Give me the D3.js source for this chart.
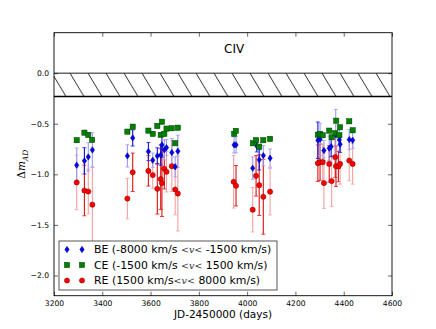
<!DOCTYPE html>
<html><head><meta charset="utf-8">
<script src="https://cdn.jsdelivr.net/npm/d3@7"></script>
<style>body{margin:0;background:#fff}</style>
</head><body><svg id="c" width="436" height="329"></svg>
<script>
// ---- data ----
const xTicks = [3200, 3400, 3600, 3800, 4000, 4200, 4400, 4600];
const yTicks = [0.0, -0.5, -1.0, -1.5, -2.0];
const bandTop = 0.0, bandBottom = -0.23;

const beDays = [3294,3326,3342,3359, 3504,3526, 3591,3609,3628,3642,3647,3657,3666,3688,3702,3713, 3946,3954, 4023,4040,4050,4067,4095, 4293,4302,4318,4340,4348,4367,4382,4385,4423,4437];
const beVals = [-0.91,-0.867,-0.828,-0.759, -0.818,-0.64, -0.775,-0.86,-0.818,-0.81,-0.71,-0.758,-0.736,-0.785,-0.926,-0.772, -0.709,-0.709, -0.939,-0.719,-0.857,-0.815,-0.84, -0.663,-0.655,-0.765,-0.742,-0.726,-0.608,-0.66,-0.703,-0.657,-0.663];
const beErr  = [0.17,0.13,0.14,0.17, 0.11,0.08, 0.09,0.07,0.08,0.1,0.12,0.1,0.08,0.14,0.1,0.16, 0.08,0.08, 0.11,0.06,0.1,0.1,0.09, 0.18,0.16,0.1,0.12,0.1,0.25,0.1,0.08,0.1,0.08];
const beDark = [0,1,0,0, 0,1, 1,0,1,1,1,0,0,0,0,0, 0,0, 0,1,1,0,0, 1,0,0,0,1,0,0,1,0,0];

const ceDays = [3294,3326,3342,3358, 3504,3526, 3591,3609,3628,3642,3647,3657,3666,3688,3702,3713, 3946,3953, 4024,4037,4050,4067,4095, 4293,4302,4313,4340,4350,4365,4369,4382,4385,4423,4437];
const ceVals = [-0.663,-0.588,-0.61,-0.66, -0.578,-0.529, -0.568,-0.60,-0.522,-0.61,-0.48,-0.60,-0.548,-0.545,-0.693,-0.539, -0.60,-0.571, -0.693,-0.663,-0.726,-0.663,-0.65, -0.608,-0.60,-0.614,-0.568,-0.634,-0.594,-0.47,-0.614,-0.535,-0.476,-0.565];
const ceErr  = ceVals.map(() => 0.02);

const reDays = [3294,3326,3342,3359, 3504,3526, 3591,3609,3628,3642,3647,3657,3666,3688,3702,3713, 3944,3954, 4023,4037,4050,4067,4095, 4293,4302,4313,4318,4340,4350,4365,4368,4378,4385,4423,4437];
const reVals = [-1.08,-1.16,-1.17,-1.30, -1.24,-0.98, -0.966,-1.008,-1.143,-1.047,-1.087,-0.945,-0.975,-0.92,-1.15,-1.19, -1.074,-1.113, -1.35,-1.015,-1.107,-1.222,-1.172, -0.89,-0.88,-0.88,-1.087,-0.897,-1.067,-0.83,-0.92,-0.923,-0.897,-0.864,-0.897];
const reErr  = [0.27,0.25,0.22,0.37, 0.2,0.19, 0.15,0.13,0.25,0.3,0.33,0.2,0.2,0.25,0.25,0.37, 0.26,0.2, 0.22,0.2,0.3,0.37,0.23, 0.18,0.18,0.18,0.25,0.18,0.25,0.2,0.2,0.15,0.2,0.2,0.2];
const reDark = [0,1,0,0, 0,1, 1,0,1,1,1,1,0,0,0,0, 0,1, 0,1,1,1,0, 1,1,0,0,1,0,1,1,1,0,0,0];

const legendLabels = [
  ["BE (-8000 km/s ", " -1500 km/s)"],
  ["CE (-1500 km/s ", " 1500 km/s)"],
  ["RE (1500 km/s", " 8000 km/s)"]
];

// ---- layout ----
const svg = d3.select("#c");
const L = 54, R = 392, T = 32.7, B = 295.7;
const x = d3.scaleLinear().domain([3200, 4600]).range([L, R]);
const y = d3.scaleLinear().domain([-2.2, 0.4]).range([B, T]);
const font = "DejaVu Sans, sans-serif";

// hatched band
const yb0 = y(bandTop), yb1 = y(bandBottom), bh = yb1 - yb0;
const defs = svg.append("defs");
const pat = defs.append("pattern").attr("id","hatch").attr("patternUnits","userSpaceOnUse")
  .attr("x", L - 4).attr("y", yb0).attr("width", 18).attr("height", bh);
pat.append("line").attr("x1", 2).attr("y1", 0).attr("x2", 16).attr("y2", bh)
  .attr("stroke","#000").attr("stroke-width",0.8);
svg.append("rect").attr("x", L).attr("y", yb0).attr("width", R-L).attr("height", bh).attr("fill","url(#hatch)");
svg.append("line").attr("x1",L).attr("x2",R).attr("y1",yb0).attr("y2",yb0).attr("stroke","#000").attr("stroke-width",0.9);
svg.append("line").attr("x1",L).attr("x2",R).attr("y1",yb1).attr("y2",yb1).attr("stroke","#000").attr("stroke-width",1.4);

// error bars
function errbars(days, vals, errs, dark, darkCol, lightCol) {
  const g = svg.append("g");
  days.forEach((d, i) => {
    const col = dark && dark[i] ? darkCol : lightCol;
    const cx = x(d), y1 = y(vals[i] + errs[i]), y2 = y(vals[i] - errs[i]);
    g.append("line").attr("x1",cx).attr("x2",cx).attr("y1",y1).attr("y2",y2).attr("stroke",col).attr("stroke-width",1.1);
    [y1, y2].forEach(yy => g.append("line").attr("x1",cx-2).attr("x2",cx+2).attr("y1",yy).attr("y2",yy).attr("stroke",col).attr("stroke-width",0.8));
  });
}
errbars(reDays, reVals, reErr, reDark, "#e01010", "#f4a0a0");
errbars(beDays, beVals, beErr, beDark, "#1010e0", "#9a9af4");
errbars(ceDays, ceVals, ceErr, null, "#008000", "#80c080");

// markers
function circ(g, cx, cy) { g.append("circle").attr("cx",cx).attr("cy",cy).attr("r",2.6).attr("fill","#ff0000").attr("stroke","#700").attr("stroke-width",0.5); }
function diam(g, cx, cy) { g.append("path").attr("d",`M${cx},${cy-3.2}L${cx+2.2},${cy}L${cx},${cy+3.2}L${cx-2.2},${cy}Z`).attr("fill","#0000ff").attr("stroke","#000070").attr("stroke-width",0.5); }
function sq(g, cx, cy) { g.append("rect").attr("x",cx-2.6).attr("y",cy-2.6).attr("width",5.2).attr("height",5.2).attr("fill","#008000").attr("stroke","#004000").attr("stroke-width",0.5); }
const gm = svg.append("g");
reDays.forEach((d,i) => circ(gm, x(d), y(reVals[i])));
beDays.forEach((d,i) => diam(gm, x(d), y(beVals[i])));
ceDays.forEach((d,i) => sq(gm, x(d), y(ceVals[i])));

// axes
const fmtY = d3.format(".1f");
const ax = svg.append("g").attr("transform",`translate(0,${B})`)
  .call(d3.axisBottom(x).tickValues(xTicks).tickFormat(d3.format("d")).tickSizeInner(-4).tickSizeOuter(0).tickPadding(4.5));
const axT = svg.append("g").attr("transform",`translate(0,${T})`)
  .call(d3.axisTop(x).tickValues(xTicks).tickFormat("").tickSizeInner(-4).tickSizeOuter(0));
const ay = svg.append("g").attr("transform",`translate(${L},0)`)
  .call(d3.axisLeft(y).tickValues(yTicks).tickFormat(fmtY).tickSizeInner(-4).tickSizeOuter(0).tickPadding(5));
const ayR = svg.append("g").attr("transform",`translate(${R},0)`)
  .call(d3.axisRight(y).tickValues(yTicks).tickFormat("").tickSizeInner(-4).tickSizeOuter(0));
[ax, axT, ay, ayR].forEach(a => {
  a.select(".domain").remove();
  a.selectAll("text").attr("font-family", font).attr("font-size", 7.6).attr("fill","#000");
  a.selectAll("line").attr("stroke","#000").attr("stroke-width",0.6);
});
svg.append("rect").attr("x",L).attr("y",T).attr("width",R-L).attr("height",B-T).attr("fill","none").attr("stroke","#000").attr("stroke-width",0.9);

// title text
svg.append("text").attr("x", 224).attr("y", 52.5).text("CIV")
  .attr("font-family", font).attr("font-size", 12).attr("fill","#000");

// axis labels
svg.append("text").attr("x", (L+R)/2).attr("y", 318).attr("text-anchor","middle")
  .attr("font-family", font).attr("font-size", 10.5).text("JD-2450000 (days)");
const yl = svg.append("text").attr("transform", `translate(25,${(T+B)/2}) rotate(-90)`).attr("text-anchor","middle")
  .attr("font-family","DejaVu Serif, serif").attr("font-size", 10.5);
yl.append("tspan").text("Δ");
yl.append("tspan").attr("font-style","italic").text("m");
yl.append("tspan").attr("font-style","italic").attr("font-size",7.5).attr("dy",2.5).text("AD");

// legend
const lg = svg.append("g");
lg.append("rect").attr("x",59).attr("y",241).attr("width",218).attr("height",49)
  .attr("fill","#fff").attr("stroke","#444").attr("stroke-width",0.9);
const rows = [249.5, 265, 280.5];
const markFns = [diam, sq, circ];
rows.forEach((ry, i) => {
  [67, 82].forEach(mx => markFns[i](lg, mx, ry));
  const t = lg.append("text").attr("x", 94).attr("y", ry + 3.9).attr("font-family", font).attr("font-size", 10.9);
  t.append("tspan").text(legendLabels[i][0]);
  t.append("tspan").attr("font-family","DejaVu Serif, serif").attr("font-size",9.5).attr("fill","#333").text("<");
  t.append("tspan").attr("font-family","DejaVu Serif, serif").attr("font-size",9.5).attr("font-style","italic").attr("fill","#333").text("v");
  t.append("tspan").attr("font-family","DejaVu Serif, serif").attr("font-size",9.5).attr("fill","#333").text("<");
  t.append("tspan").text(legendLabels[i][1]);
});
</script>
</body></html>
